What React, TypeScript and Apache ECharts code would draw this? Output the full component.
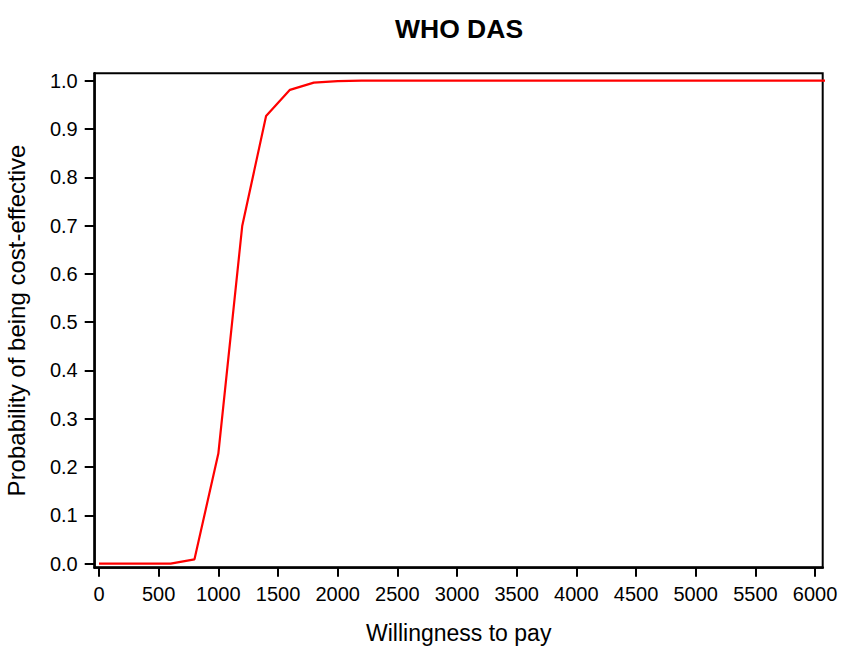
import React, { useEffect, useRef } from "react";
import * as echarts from "echarts";

const titleText = "WHO DAS";
const xName = "Willingness to pay";
const yName = "Probability of being cost-effective";

const wtp = [0, 200, 400, 600, 800, 1000, 1200, 1400, 1600, 1800, 2000, 2200, 2400, 2600, 2800, 3000, 3200, 3400, 3600, 3800, 4000, 4200, 4400, 4600, 4800, 5000, 5200, 5400, 5600, 5800, 6000, 6200];
const prob = [0, 0, 0, 0, 0.009, 0.228, 0.699, 0.927, 0.981, 0.996, 0.999, 1, 1, 1, 1, 1, 1, 1, 1, 1, 1, 1, 1, 1, 1, 1, 1, 1, 1, 1, 1, 1];

const xTicks = [0, 500, 1000, 1500, 2000, 2500, 3000, 3500, 4000, 4500, 5000, 5500, 6000];
const yTicks = [0, 0.1, 0.2, 0.3, 0.4, 0.5, 0.6, 0.7, 0.8, 0.9, 1.0];

const FONT = "'Liberation Sans', Arial, Helvetica, sans-serif";

export default function App() {
  const ref = useRef<HTMLDivElement>(null);
  useEffect(() => {
    if (!ref.current) return;
    const chart = echarts.init(ref.current, null, { renderer: "svg" });
    chart.setOption({
      animation: false,
      backgroundColor: "#ffffff",
      title: {
        text: titleText,
        left: 395,
        top: 15,
        padding: 0,
        textStyle: { fontFamily: FONT, fontSize: 26.5, fontWeight: "bold", color: "#000" },
      },
      grid: {
        left: 94.7,
        right: 18.3,
        top: 73.3,
        bottom: 87.3,
        containLabel: false,
        outerBoundsMode: "none",
        show: true,
        borderColor: "#000",
        borderWidth: 2,
        backgroundColor: "transparent",
      },
      xAxis: {
        type: "value",
        min: -36,
        max: 6064,
        name: xName,
        nameLocation: "middle",
        nameGap: 54,
        nameTextStyle: { fontFamily: FONT, fontSize: 23, color: "#000" },
        axisLine: { show: true, onZero: false, lineStyle: { color: "#000", width: 2.5 } },
        axisTick: { show: true, length: 9, customValues: xTicks, lineStyle: { color: "#000", width: 2 } },
        axisLabel: {
          customValues: xTicks,
          margin: 16,
          fontFamily: FONT,
          fontSize: 20,
          color: "#000",
          formatter: (v: number) => String(v),
        },
        splitLine: { show: false },
      },
      yAxis: {
        type: "value",
        min: -0.0083,
        max: 1.0153,
        name: yName,
        nameLocation: "middle",
        nameGap: 66,
        nameTextStyle: { fontFamily: FONT, fontSize: 24, color: "#000" },
        axisLine: { show: true, onZero: false, lineStyle: { color: "#000", width: 2.5 } },
        axisTick: { show: true, length: 10, customValues: yTicks, lineStyle: { color: "#000", width: 2 } },
        axisLabel: {
          customValues: yTicks,
          margin: 17,
          fontFamily: FONT,
          fontSize: 20,
          color: "#000",
          formatter: (v: number) => v.toFixed(1),
        },
        splitLine: { show: false },
      },
      series: [
        {
          type: "line",
          data: wtp.map((x, i) => [x, prob[i]]),
          showSymbol: false,
          clip: true,
          lineStyle: { color: "#ff0000", width: 2.2 },
          itemStyle: { color: "#ff0000" },
        },
      ],
    });
    return () => chart.dispose();
  }, []);
  return (
    <div
      ref={ref}
      style={{ position: "fixed", left: 0, top: 0, width: 841, height: 655, background: "#fff" }}
    />
  );
}
